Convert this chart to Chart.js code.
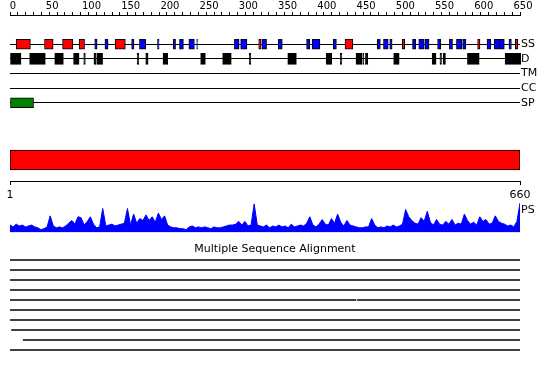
<!DOCTYPE html>
<html>
<head>
<meta charset="utf-8">
<script src="https://cdn.jsdelivr.net/npm/chart.js@4.4.1/dist/chart.umd.min.js"></script>
<style>
body { margin: 0; background: #fff; }
#wrap { position: relative; width: 550px; height: 380px; }
canvas { position: absolute; left: 0; }
</style>
</head>
<body>
<div id="wrap">
<canvas id="featuresChart" width="550" height="125" style="top:0px"></canvas>
<canvas id="domainChart" width="550" height="75" style="top:135px"></canvas>
<canvas id="psChart" width="550" height="45" style="top:195px"></canvas>
<canvas id="msaChart" width="550" height="117" style="top:240px"></canvas>
</div>
<script>
// rows of the feature panel (blank ones only make room under the axis)
var rowLabels = ['', '', 'SS', 'D', 'TM', 'CC', 'SP', ''];

// secondary structure: helix (red) and strand (blue), residue ranges
var ssHelix = [[8, 26], [44, 55], [67, 80], [88, 95], [134, 147], [317, 320], [427, 437], [500, 503], [596, 599], [644, 647]];
var ssStrand = [[108, 111], [121, 125], [155, 158], [165, 173], [188, 190], [208, 211], [216, 221], [228, 235], [238, 239],
    [286, 292], [294, 302], [321, 327], [342, 347], [378, 382], [385, 395], [412, 416], [468, 472], [476, 482], [484, 487],
    [513, 517], [521, 528], [529, 534], [545, 549], [560, 564], [569, 576], [577, 581], [608, 613], [617, 624], [624, 630], [636, 639]];
// disordered regions
var disorder = [[0, 14], [25, 45], [57, 68], [81, 88], [94, 96], [107, 110], [111, 118], [162, 164], [173, 176], [195, 201],
    [243, 249], [271, 282], [305, 307], [354, 365], [403, 410], [421, 423], [441, 449], [450, 451], [453, 456], [489, 496],
    [538, 543], [548, 550], [552, 555], [583, 598], [631, 651]];
var signalPeptide = [[0, 30]];

// domain bar and ruler
var domainNames = ['domain'];
var domainRanges = [[1, 660]];
var rulerTicks = [1, 660];

// PS profile, read left to right along the sequence
var psValues = [8, 6, 9, 7, 8, 6, 7, 8, 6, 5, 3, 4, 6, 18, 7, 5, 6, 5, 7, 10,
    13, 9, 17, 16, 8, 12, 17, 9, 5, 6, 26, 7, 8, 9, 7, 8, 9, 10, 26, 8,
    20, 10, 15, 13, 19, 13, 17, 11, 21, 14, 18, 8, 6, 5, 5, 4, 4, 3, 6, 7,
    5, 6, 5, 6, 5, 4, 6, 5, 5, 6, 7, 8, 8, 9, 12, 8, 12, 7, 8, 31,
    8, 7, 6, 8, 5, 7, 6, 8, 6, 7, 5, 9, 6, 7, 8, 7, 10, 17, 8, 6,
    9, 14, 9, 8, 15, 10, 20, 11, 7, 13, 8, 7, 6, 5, 5, 6, 6, 15, 8, 5,
    6, 5, 7, 6, 8, 6, 7, 9, 25, 17, 13, 10, 9, 16, 12, 23, 11, 8, 14, 9,
    8, 12, 9, 14, 8, 10, 9, 20, 13, 9, 11, 8, 17, 12, 14, 9, 10, 18, 12, 10,
    9, 7, 8, 6, 12, 32];
var psLabelLevel = 24;

// multiple sequence alignment rows, each a list of aligned stretches
var msaRows = ['s1', 's2', 's3', 's4', 's5', 's6', 's7', 's8', 's9', 's10'];
var msaSegments = [
    [[1, 660]], [[1, 660]], [[1, 660]], [[1, 660]],
    [[1, 448], [450, 660]],
    [[1, 660]], [[1, 660]],
    [[3, 660]], [[18, 660]], [[1, 660]]
];

Chart.defaults.font.family = 'DejaVu Sans';
Chart.defaults.color = '#000';
Chart.defaults.animation = false;
Chart.defaults.responsive = false;
Chart.defaults.devicePixelRatio = 1;
Chart.defaults.plugins.legend.display = false;
Chart.defaults.plugins.tooltip.enabled = false;

function featureSet(ranges, row, color, thickness) {
    return {
        data: ranges.map(r => ({ x: r, y: row })),
        backgroundColor: color,
        borderColor: '#000',
        borderWidth: 1,
        borderSkipped: false,
        barThickness: thickness,
        grouped: false,
        clip: false
    };
}

// Panel de caracteristicas
var ctxFeatures = document.getElementById('featuresChart').getContext('2d');
new Chart(ctxFeatures, {
    type: 'bar',
    data: {
        labels: rowLabels,
        datasets: [
            featureSet(ssHelix, 'SS', '#ff0000', 10),
            featureSet(ssStrand, 'SS', '#0000ff', 10),
            featureSet(disorder, 'D', '#000000', 11),
            featureSet(signalPeptide, 'SP', '#008000', 10)
        ]
    },
    options: {
        indexAxis: 'y',
        layout: { padding: { left: 10, right: 0, top: 0, bottom: 5 } },
        scales: {
            x: {
                type: 'linear',
                position: 'top',
                min: 0,
                max: 650,
                ticks: {
                    stepSize: 10,
                    autoSkip: false,
                    maxRotation: 0,
                    padding: 0,
                    labelOffset: 3,
                    font: { size: 10 },
                    callback: v => v % 50 === 0 ? v : ''
                },
                grid: { drawOnChartArea: false, tickLength: 3, color: '#000' },
                border: { color: '#000' },
                afterFit: s => { s.height = 15; }
            },
            y: {
                type: 'category',
                position: 'right',
                offset: false,
                ticks: { padding: 1, autoSkip: false, font: { size: 11 } },
                grid: {
                    offset: false,
                    drawTicks: false,
                    color: c => rowLabels[c.index] ? '#000' : 'rgba(0,0,0,0)'
                },
                border: { display: false },
                afterFit: s => { s.width = 30; }
            }
        }
    }
});

// Dominio y regla
var ctxDomain = document.getElementById('domainChart').getContext('2d');
new Chart(ctxDomain, {
    type: 'bar',
    data: {
        labels: domainNames,
        datasets: [{
            data: domainRanges.map((r, i) => ({ x: r, y: domainNames[i] })),
            backgroundColor: '#ff0000',
            borderColor: '#000',
            borderWidth: 1,
            borderSkipped: false,
            barThickness: 20
        }]
    },
    options: {
        indexAxis: 'y',
        layout: { padding: { left: 10, right: 30, top: 4, bottom: 0 } },
        scales: {
            x: {
                type: 'linear',
                min: 1,
                max: 660,
                afterBuildTicks: s => { s.ticks = rulerTicks.map(v => ({ value: v })); },
                ticks: { autoSkip: false, maxRotation: 0, padding: 4, font: { size: 11 } },
                grid: { drawOnChartArea: false, tickLength: 4, color: '#000' },
                border: { color: '#000' },
                afterFit: s => { s.height = 29; }
            },
            y: { display: false }
        }
    }
});

// Perfil PS
var psStep = (rulerTicks[1] - rulerTicks[0]) / (psValues.length - 1);
var ctxPs = document.getElementById('psChart').getContext('2d');
new Chart(ctxPs, {
    type: 'line',
    data: {
        datasets: [{
            data: psValues.map((v, i) => ({ x: rulerTicks[0] + i * psStep, y: v })),
            borderColor: '#0000ff',
            backgroundColor: '#0000ff',
            borderWidth: 1,
            fill: 'origin',
            pointRadius: 0,
            tension: 0
        }]
    },
    options: {
        layout: { padding: { left: 10, right: 0, top: 8, bottom: 5 } },
        scales: {
            x: { type: 'linear', min: 1, max: 660, display: false },
            y: {
                position: 'right',
                min: 0,
                max: 32,
                afterBuildTicks: s => { s.ticks = [{ value: psLabelLevel }]; },
                ticks: { callback: () => 'PS', padding: 1, font: { size: 11 } },
                grid: { display: false, drawTicks: false },
                border: { display: false },
                afterFit: s => { s.width = 30; }
            }
        }
    }
});

// Alineamiento multiple
var ctxMsa = document.getElementById('msaChart').getContext('2d');
new Chart(ctxMsa, {
    type: 'bar',
    data: {
        labels: msaRows,
        datasets: [{
            data: msaSegments.flatMap((segs, r) => segs.map(s => ({ x: s, y: msaRows[r] }))),
            backgroundColor: '#000',
            borderWidth: 0,
            barThickness: 1
        }]
    },
    options: {
        indexAxis: 'y',
        layout: { padding: { left: 10, right: 10, top: 0, bottom: 2 } },
        plugins: {
            title: {
                display: true,
                text: 'Multiple Sequence Alignment',
                color: '#000',
                font: { size: 11, weight: 'normal', lineHeight: 1 },
                padding: { top: 4, bottom: 0 }
            }
        },
        scales: {
            x: { type: 'linear', min: 1, max: 660, display: false },
            y: {
                position: 'right',
                ticks: { display: false },
                grid: { display: false },
                border: { display: false },
                afterFit: s => { s.width = 20; }
            }
        }
    }
});
</script>
</body>
</html>
